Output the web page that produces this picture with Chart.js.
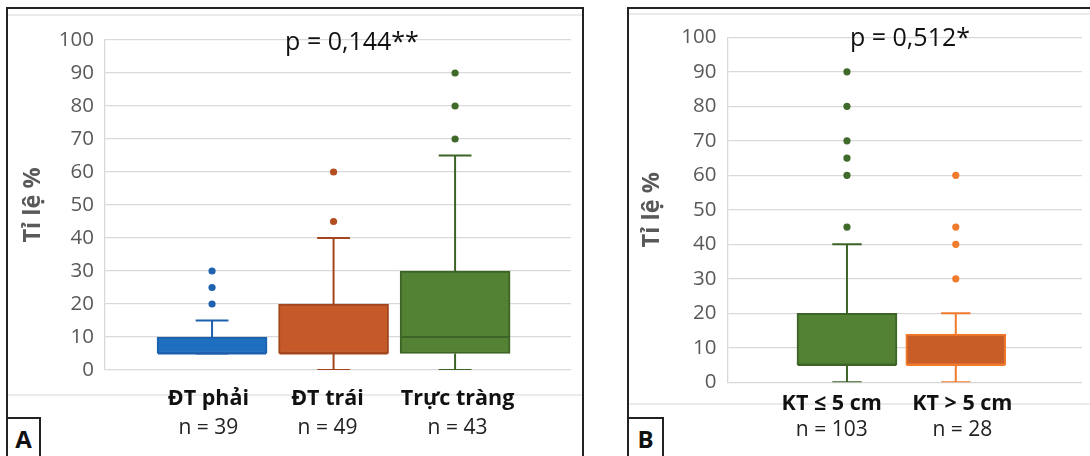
<!DOCTYPE html>
<html>
<head>
<meta charset="utf-8">
<script src="https://cdn.jsdelivr.net/npm/chart.js@4"></script>
<style>
  body { margin: 0; width: 1090px; height: 456px; background: #fff; position: relative; overflow: hidden; font-family: 'Open Sans', sans-serif; }
  .panel { position: absolute; top: 7px; height: 470px; border: 2px solid #222; box-sizing: border-box; }
  .faint { position: absolute; height: 2px; background: #ebebeb; }
  canvas { position: absolute; top: 0; }
  .pval { position: absolute; width: 300px; text-align: center; font-size: 25px; line-height: 25px; color: #111; }
  .tag { position: absolute; top: 417px; height: 50px; border: 2px solid #222; box-sizing: border-box; background: #fff;
         font-weight: bold; font-size: 24px; line-height: 24px; padding-top: 8px; text-align: center; color: #111; }
</style>
</head>
<body>
<div class="panel" style="left:6px;width:578px"></div>
<div class="faint" style="left:8px;width:574px;top:14px"></div>
<div class="faint" style="left:8px;width:574px;top:394px"></div>
<div class="panel" style="left:627px;width:500px"></div>
<div class="faint" style="left:629px;width:470px;top:13px"></div>
<div class="faint" style="left:629px;width:470px;top:403px"></div>

<canvas id="chartA" width="590" height="456" style="left:0"></canvas>
<canvas id="chartB" width="490" height="456" style="left:600px"></canvas>

<div class="pval" style="left:202px;top:28px">p = 0,144**</div>
<div class="pval" style="left:760px;top:24px">p = 0,512*</div>
<div class="tag" style="left:6px;width:35px">A</div>
<div class="tag" style="left:627px;width:37px">B</div>

<script>
Chart.defaults.font.family = "'Open Sans', sans-serif";
Chart.defaults.color = '#595959';
Chart.defaults.animation = false;

// panel A: by tumour site
var groupsA = ['ĐT phải', 'ĐT trái', 'Trực tràng'];
var countsA = ['n = 39', 'n = 49', 'n = 43'];
var minA = [5, 0, 0];
var q1A = [5, 5, 5];
var medA = [5, 5, 10];
var q3A = [10, 20, 30];
var maxA = [15, 40, 65];
var outA = [[20, 25, 30], [45, 60], [70, 80, 90]];

// panel B: by tumour size
var groupsB = ['KT ≤ 5 cm', 'KT > 5 cm'];
var countsB = ['n = 103', 'n = 28'];
var minB = [0, 0];
var q1B = [5, 5];
var medB = [5, 5];
var q3B = [20, 14];
var maxB = [40, 20];
var outB = [[45, 60, 65, 70, 80, 90], [30, 40, 45, 60]];

var yTitle = 'Tỉ lệ %';

// median line across each box, drawn from the bar elements
var medianLines = {
    id: 'medianLines',
    afterDatasetsDraw: function (chart) {
        var p = chart.options.plugins.medianLines;
        var meta = chart.getDatasetMeta(0);
        var ctx = chart.ctx;
        var y = chart.scales.y;
        ctx.save();
        ctx.lineWidth = 2;
        meta.data.forEach(function (bar, i) {
            var py = y.getPixelForValue(p.med[i]);
            ctx.strokeStyle = p.edge[i];
            ctx.beginPath();
            ctx.moveTo(bar.x - bar.width / 2 + 1, py);
            ctx.lineTo(bar.x + bar.width / 2 - 1, py);
            ctx.stroke();
        });
        ctx.restore();
    }
};

function makePanel(canvasId, p) {
    var datasets = [{
        type: 'bar',
        data: p.groups.map(function (g, i) { return {x: i + 1, y: [p.q1[i], p.q3[i]]}; }),
        backgroundColor: p.fill,
        borderColor: p.edge,
        borderWidth: 2,
        borderSkipped: false,
        barThickness: p.boxPx,
        order: 2
    }];
    p.groups.forEach(function (g, i) {
        var c = i + 1, h = p.cap / 2;
        datasets.push({
            type: 'scatter',
            showLine: true,
            spanGaps: false,
            data: [
                {x: c - h, y: p.max[i]}, {x: c + h, y: p.max[i]}, {x: c, y: null},
                {x: c, y: p.max[i]}, {x: c, y: p.q3[i]}, {x: c, y: null},
                {x: c, y: p.q1[i]}, {x: c, y: p.min[i]}, {x: c, y: null},
                {x: c - h, y: p.min[i]}, {x: c + h, y: p.min[i]}
            ],
            borderColor: p.edge[i],
            borderWidth: 2,
            pointRadius: 0,
            order: 3
        });
        datasets.push({
            type: 'scatter',
            data: p.out[i].map(function (v) { return {x: c, y: v}; }),
            backgroundColor: p.dot[i],
            borderWidth: 0,
            pointRadius: 3.6,
            order: 1
        });
    });

    return new Chart(document.getElementById(canvasId).getContext('2d'), {
        type: 'bar',
        data: {datasets: datasets},
        options: {
            responsive: false,
            events: [],
            layout: {padding: {left: 0, right: p.padR, top: p.padT, bottom: 0}},
            plugins: {
                legend: {display: false},
                tooltip: {enabled: false},
                medianLines: {med: p.med, edge: p.edge}
            },
            scales: {
                x: {
                    type: 'linear',
                    min: p.xMin,
                    max: p.xMax,
                    offset: false,
                    grid: {display: false, drawTicks: false},
                    border: {display: false},
                    afterBuildTicks: function (s) { s.ticks = p.labelAt.map(function (v) { return {value: v}; }); },
                    afterFit: function (s) { s.height = p.nameH; },
                    ticks: {
                        autoSkip: false, maxRotation: 0, padding: p.namePad, color: '#111',
                        font: {size: 21.5, weight: 'bold'},
                        callback: function (v, i) { return p.groups[i]; }
                    }
                },
                x2: {
                    type: 'linear',
                    position: 'bottom',
                    weight: 1,
                    min: p.xMin,
                    max: p.xMax,
                    offset: false,
                    grid: {display: false, drawTicks: false},
                    border: {display: false},
                    afterBuildTicks: function (s) { s.ticks = p.labelAt.map(function (v) { return {value: v}; }); },
                    afterFit: function (s) { s.height = p.countH; },
                    ticks: {
                        autoSkip: false, maxRotation: 0, padding: p.countPad, color: '#222',
                        font: {size: 21},
                        callback: function (v, i) { return p.counts[i]; }
                    }
                },
                y: {
                    min: 0,
                    max: 100,
                    ticks: {stepSize: 10, padding: 11, color: '#595959', font: {size: 20.5}},
                    grid: {color: '#d9d9d9', lineWidth: 1.3, drawTicks: false},
                    border: {color: '#d9d9d9', width: 1.3},
                    title: {
                        display: true, text: yTitle, color: '#595959',
                        font: {size: 23.5, weight: 'bold'},
                        padding: {top: p.titlePad, bottom: 0}
                    },
                    afterFit: function (s) { s.width = p.yW; }
                }
            }
        },
        plugins: [medianLines]
    });
}

var chartA = makePanel('chartA', {
    groups: groupsA, counts: countsA,
    min: minA, q1: q1A, med: medA, q3: q3A, max: maxA, out: outA,
    fill: ['#1f6fc0', '#c55a28', '#548235'],
    edge: ['#1e60ad', '#a3461d', '#3d6427'],
    dot: ['#1f63b0', '#b24e22', '#3f6a2a'],
    xMin: 0.119, xMax: 3.954, labelAt: [0.97, 1.95, 3.02],
    boxPx: 110, cap: 0.27,
    padT: 40, padR: 19, yW: 105, titlePad: 19,
    nameH: 40, namePad: 16, countH: 46, countPad: 5.4
});

var chartB = makePanel('chartB', {
    groups: groupsB, counts: countsB,
    min: minB, q1: q1B, med: medB, q3: q3B, max: maxB, out: outB,
    fill: ['#548235', '#c95d27'],
    edge: ['#3d6427', '#f07b2c'],
    dot: ['#3f6a2a', '#f07b2c'],
    xMin: -0.098, xMax: 3.160, labelAt: [0.86, 2.06],
    boxPx: 100, cap: 0.27,
    padT: 37.3, padR: 8, yW: 127.5, titlePad: 38.6,
    nameH: 30, namePad: 8.7, countH: 43.7, countPad: 5.1
});
</script>
</body>
</html>
